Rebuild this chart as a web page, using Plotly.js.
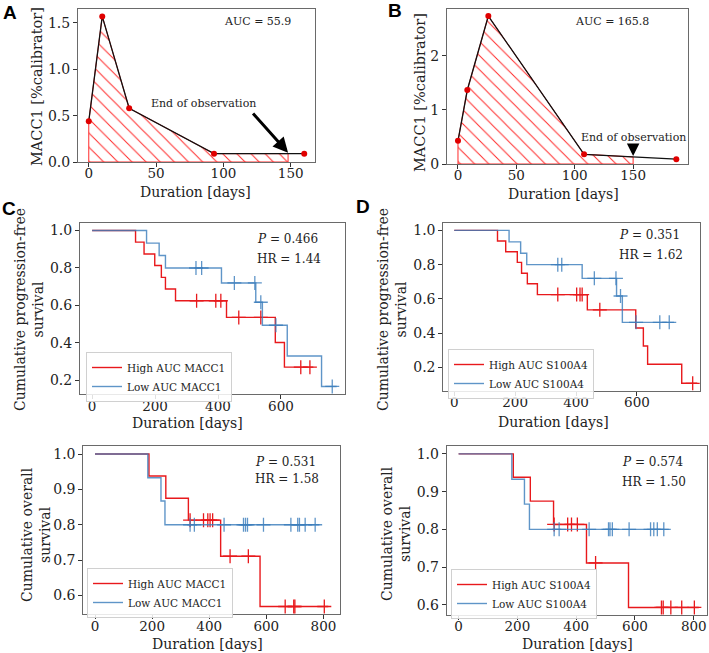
<!DOCTYPE html>
<html>
<head>
<meta charset="utf-8">
<script src="https://cdn.plot.ly/plotly-3.0.1.min.js"></script>
<style>html,body{margin:0;padding:0;background:#fff;}#chart{width:709px;height:653px;}</style>
</head>
<body>
<div id="chart"></div>
<script>
// ---------- Panel A (MACC1 time course) ----------
const aDays = [0, 10, 30, 93, 160];
const aMacc1 = [0.44, 1.57, 0.58, 0.09, 0.09];
const aAreaDays = [0, 0, 10, 30, 93, 148, 148, 0];
const aAreaVals = [0, 0.44, 1.57, 0.58, 0.09, 0.09, 0, 0];
const aAuc = "AUC = 55.9";
const aEndObs = 148;

// ---------- Panel B ----------
const bDays = [0, 8, 26, 108, 187];
const bMacc1 = [0.43, 1.37, 2.74, 0.18, 0.09];
const bAreaDays = [0, 0, 8, 26, 108, 150, 150, 0];
const bAreaVals = [0, 0.43, 1.37, 2.74, 0.18, 0.13, 0, 0];
const bAuc = "AUC = 165.8";
const bEndObs = 150;

// ---------- Panel C top: PFS, MACC1 ----------
const cPfsHighT = [0, 138, 165, 199, 220, 233, 265, 427, 582, 611, 703];
const cPfsHighS = [1.0, 0.938, 0.875, 0.813, 0.75, 0.688, 0.625, 0.536, 0.402, 0.27, 0.27];
const cPfsHighCensT = [332, 393, 409, 466, 536, 663, 692];
const cPfsHighCensS = [0.625, 0.625, 0.625, 0.536, 0.536, 0.27, 0.27];
const cPfsLowT = [0, 173, 213, 233, 411, 520, 541, 620, 729, 777];
const cPfsLowS = [1.0, 0.933, 0.867, 0.8, 0.72, 0.617, 0.494, 0.33, 0.167, 0.167];
const cPfsLowCensT = [330, 348, 452, 517, 536, 584, 763];
const cPfsLowCensS = [0.8, 0.8, 0.72, 0.72, 0.617, 0.494, 0.167];

// ---------- Panel D top: PFS, S100A4 ----------
const dPfsHighT = [0, 142, 169, 207, 221, 240, 273, 437, 596, 621, 635, 747, 798];
const dPfsHighS = [1.0, 0.938, 0.875, 0.813, 0.75, 0.688, 0.625, 0.536, 0.43, 0.325, 0.218, 0.107, 0.107];
const dPfsHighCensT = [340, 402, 413, 420, 478, 783];
const dPfsHighCensS = [0.625, 0.625, 0.625, 0.625, 0.536, 0.107];
const dPfsLowT = [0, 180, 218, 238, 420, 533, 552, 722];
const dPfsLowS = [1.0, 0.933, 0.867, 0.8, 0.72, 0.617, 0.463, 0.463];
const dPfsLowCensT = [340, 353, 460, 531, 546, 597, 675, 706];
const dPfsLowCensS = [0.8, 0.8, 0.72, 0.72, 0.617, 0.463, 0.463, 0.463];

// ---------- Panel C bottom: OS, MACC1 ----------
const cOsHighT = [0, 189, 248, 327, 440, 578, 817];
const cOsHighS = [1.0, 0.938, 0.875, 0.813, 0.711, 0.569, 0.569];
const cOsHighCensT = [333, 380, 395, 403, 412, 473, 537, 666, 696, 700, 803];
const cOsHighCensS = [0.813, 0.813, 0.813, 0.813, 0.813, 0.711, 0.711, 0.569, 0.569, 0.569, 0.569];
const cOsLowT = [0, 185, 231, 245, 786];
const cOsLowS = [1.0, 0.933, 0.867, 0.8, 0.8];
const cOsLowCensT = [333, 348, 452, 520, 527, 534, 590, 686, 710, 716, 736, 771];
const cOsLowCensS = [0.8, 0.8, 0.8, 0.8, 0.8, 0.8, 0.8, 0.8, 0.8, 0.8, 0.8, 0.8];

// ---------- Panel D bottom: OS, S100A4 ----------
const dOsHighT = [0, 186, 244, 323, 435, 578, 817];
const dOsHighS = [1.0, 0.938, 0.875, 0.813, 0.711, 0.593, 0.593];
const dOsHighCensT = [325, 371, 384, 404, 466, 690, 696, 722, 759, 802];
const dOsHighCensS = [0.813, 0.813, 0.813, 0.813, 0.711, 0.593, 0.593, 0.593, 0.593, 0.593];
const dOsLowT = [0, 181, 224, 241, 715];
const dOsLowS = [1.0, 0.933, 0.867, 0.8, 0.8];
const dOsLowCensT = [325, 342, 444, 510, 515, 523, 580, 653, 664, 676, 698];
const dOsLowCensS = [0.8, 0.8, 0.8, 0.8, 0.8, 0.8, 0.8, 0.8, 0.8, 0.8, 0.8];

// ---------- labels ----------
const statsText = {
  cTop: ["<i>P</i> = 0.466", "HR = 1.44"],
  dTop: ["<i>P</i> = 0.351", "HR = 1.62"],
  cBot: ["<i>P</i> = 0.531", "HR = 1.58"],
  dBot: ["<i>P</i> = 0.574", "HR = 1.50"]
};
const legendNames = {
  c: ["High AUC MACC1", "Low AUC MACC1"],
  d: ["High AUC S100A4", "Low AUC S100A4"]
};
const xTitle = 'Duration [days]';
const yTitleMacc1 = 'MACC1 [%calibrator]';
const yTitlePfs = 'Cumulative progression-free<br>survival';
const yTitleOs = 'Cumulative overall<br>survival';

const RED = '#e8191c';
const BLUE = 'rgba(60,126,188,0.82)';
const SERIF = 'DejaVu Serif, serif';

const traces = [];

function areaPanel(xs, ys, ax, ay, pxs, pys) {
  traces.push({
    x: ax, y: ay, xaxis: xs, yaxis: ys, type: 'scatter', mode: 'lines',
    fill: 'toself', fillcolor: 'white',
    fillpattern: {shape: '\\', fgcolor: '#ff2a2a', bgcolor: 'white', size: 10, solidity: 0.1},
    line: {color: '#ff2a2a', width: 1}, showlegend: false, hoverinfo: 'skip'
  });
  traces.push({
    x: pxs, y: pys, xaxis: xs, yaxis: ys, type: 'scatter', mode: 'lines+markers',
    line: {color: '#111', width: 1.3},
    marker: {color: '#e00000', size: 6}, showlegend: false
  });
}
areaPanel('x', 'y', aAreaDays, aAreaVals, aDays, aMacc1);
areaPanel('x2', 'y2', bAreaDays, bAreaVals, bDays, bMacc1);

function km(xs, ys, legendId, names, hT, hS, hCT, hCS, lT, lS, lCT, lCS) {
  traces.push({x: hT, y: hS, xaxis: xs, yaxis: ys, type: 'scatter', mode: 'lines',
    line: {shape: 'hv', color: RED, width: 1.4}, name: names[0], legend: legendId});
  traces.push({x: hCT, y: hCS, xaxis: xs, yaxis: ys, type: 'scatter', mode: 'markers',
    marker: {symbol: 'cross-thin', size: 10, line: {color: RED, width: 1.3}},
    showlegend: false, legend: legendId});
  traces.push({x: lT, y: lS, xaxis: xs, yaxis: ys, type: 'scatter', mode: 'lines',
    line: {shape: 'hv', color: BLUE, width: 1.4}, name: names[1], legend: legendId});
  traces.push({x: lCT, y: lCS, xaxis: xs, yaxis: ys, type: 'scatter', mode: 'markers',
    marker: {symbol: 'cross-thin', size: 10, line: {color: BLUE, width: 1.3}},
    showlegend: false, legend: legendId});
}
km('x3', 'y3', 'legend', legendNames.c, cPfsHighT, cPfsHighS, cPfsHighCensT, cPfsHighCensS, cPfsLowT, cPfsLowS, cPfsLowCensT, cPfsLowCensS);
km('x4', 'y4', 'legend2', legendNames.d, dPfsHighT, dPfsHighS, dPfsHighCensT, dPfsHighCensS, dPfsLowT, dPfsLowS, dPfsLowCensT, dPfsLowCensS);
km('x5', 'y5', 'legend3', legendNames.c, cOsHighT, cOsHighS, cOsHighCensT, cOsHighCensS, cOsLowT, cOsLowS, cOsLowCensT, cOsLowCensS);
km('x6', 'y6', 'legend4', legendNames.d, dOsHighT, dOsHighS, dOsHighCensT, dOsHighCensS, dOsLowT, dOsLowS, dOsLowCensT, dOsLowCensS);

const W = 709, H = 653;
const px = v => v / W;
const py = v => 1 - v / H;

function axis(domain, range, tickvals, fmt, anchor) {
  return {
    domain: domain, range: range, tickvals: tickvals, tickformat: fmt,
    anchor: anchor, showline: true, mirror: true, linecolor: '#6a6a6a', linewidth: 1,
    ticks: 'outside', ticklen: 4, tickcolor: '#333', tickwidth: 1,
    showgrid: false, zeroline: false, automargin: false,
    tickfont: {family: SERIF, size: 14, color: '#222'}
  };
}
function xax(d, r, tv, f, a) {
  const o = axis(d, r, tv, f, a);
  o.ticklabelstandoff = -5;
  o.tickfont = {family: SERIF, size: 13.5, color: '#222'};
  return o;
}

const layout = {
  width: W, height: H, margin: {l: 0, r: 0, t: 0, b: 0},
  paper_bgcolor: 'white', plot_bgcolor: 'white', showlegend: true,
  font: {family: SERIF, color: '#222'},
  xaxis: xax([px(78), px(315)], [-8, 168], [0, 50, 100, 150], 'd', 'y'),
  yaxis: axis([py(162), py(9)], [0, 1.65], [0, 0.5, 1.0, 1.5], '.1f', 'x'),
  xaxis2: xax([px(447), px(688)], [-9.4, 197], [0, 50, 100, 150], 'd', 'y2'),
  yaxis2: axis([py(164), py(9)], [0, 2.87], [0, 1, 2], 'd', 'x2'),
  xaxis3: xax([px(80), px(345)], [-38.5, 803.5], [0, 200, 400, 600], 'd', 'y3'),
  yaxis3: axis([py(394.3), py(222.7)], [0.125, 1.042], [0.2, 0.4, 0.6, 0.8, 1.0], '.1f', 'x3'),
  xaxis4: xax([px(443.3), px(700)], [-36, 807], [0, 200, 400, 600], 'd', 'y4'),
  yaxis4: axis([py(391), py(222.7)], [0.062, 1.045], [0.2, 0.4, 0.6, 0.8, 1.0], '.1f', 'x4'),
  xaxis5: xax([px(83.3), px(340)], [-41, 858], [0, 200, 400, 600, 800], 'd', 'y5'),
  yaxis5: axis([py(614.3), py(446)], [0.547, 1.0226], [0.6, 0.7, 0.8, 0.9, 1.0], '.1f', 'x5'),
  xaxis6: xax([px(446.7), px(707)], [-40.5, 845], [0, 200, 400, 600, 800], 'd', 'y6'),
  yaxis6: axis([py(615), py(446)], [0.573, 1.021], [0.6, 0.7, 0.8, 0.9, 1.0], '.1f', 'x6'),
  annotations: []
};

const legBase = () => ({
  xanchor: 'left', yanchor: 'top', bgcolor: 'rgba(255,255,255,0.85)',
  bordercolor: '#d0d0d0', borderwidth: 1, tracegroupgap: 0,
  font: {family: SERIF, size: 10.5, color: '#222'}, itemwidth: 30
});
layout.legend = Object.assign(legBase(), {x: px(86), y: py(352)});
layout.legend2 = Object.assign(legBase(), {x: px(448), y: py(349)});
layout.legend3 = Object.assign(legBase(), {x: px(87), y: py(568)});
layout.legend4 = Object.assign(legBase(), {x: px(451), y: py(569)});

const ann = layout.annotations;
function txt(x, y, text, size, xanchor, extra) {
  ann.push(Object.assign({xref: 'paper', yref: 'paper', x: x, y: y, text: text, showarrow: false,
    xanchor: xanchor || 'center', yanchor: 'middle', font: {family: SERIF, size: size, color: '#222'}}, extra || {}));
}
// axis titles
txt(px(195), py(192), xTitle, 14);
txt(px(563), py(194), xTitle, 14);
txt(px(188), py(423), xTitle, 14);
txt(px(553), py(422), xTitle, 14);
txt(px(207), py(644), xTitle, 14);
txt(px(577), py(644), xTitle, 14);
txt(px(37), py(87), yTitleMacc1, 14.5, 'center', {textangle: -90});
txt(px(420), py(93), yTitleMacc1, 14.5, 'center', {textangle: -90});
txt(px(29), py(310), yTitlePfs, 14, 'center', {textangle: -90});
txt(px(392), py(310), yTitlePfs, 14, 'center', {textangle: -90});
txt(px(36), py(535), yTitleOs, 14, 'center', {textangle: -90});
txt(px(396), py(534), yTitleOs, 14, 'center', {textangle: -90});
// panel letters
[['A', 10, 13], ['B', 395, 11], ['C', 9, 209], ['D', 363, 207]].forEach(p => {
  ann.push({xref: 'paper', yref: 'paper', x: px(p[1]), y: py(p[2]), text: '<b>' + p[0] + '</b>',
    showarrow: false, xanchor: 'center', yanchor: 'middle',
    font: {family: 'Liberation Sans, Arial, sans-serif', size: 19, color: '#000'}});
});
// AUC
txt(px(257), py(21), aAuc, 11);
txt(px(612), py(21), bAuc, 11);
// end of observation
txt(px(203), py(103), 'End of observation', 11);
txt(px(633), py(137), 'End of observation', 11);
ann.push({xref: 'x', yref: 'y', axref: 'x', ayref: 'y', x: aEndObs, y: 0.1, ax: 121, ay: 0.54,
  text: '', showarrow: true, arrowhead: 2, arrowsize: 1, arrowwidth: 3, arrowcolor: '#000'});
ann.push({xref: 'x2', yref: 'y2', axref: 'x2', ayref: 'y2', x: bEndObs, y: 0.15, ax: bEndObs, ay: 0.4,
  text: '', showarrow: true, arrowhead: 2, arrowsize: 1, arrowwidth: 2.5, arrowcolor: '#000'});
// stats
txt(px(255), py(239), statsText.cTop[0], 12, 'left');
txt(px(255), py(259), statsText.cTop[1], 12, 'left');
txt(px(617), py(235), statsText.dTop[0], 12, 'left');
txt(px(617), py(255), statsText.dTop[1], 12, 'left');
txt(px(253), py(462), statsText.cBot[0], 12, 'left');
txt(px(253), py(479), statsText.cBot[1], 12, 'left');
txt(px(620), py(462), statsText.dBot[0], 12, 'left');
txt(px(620), py(482), statsText.dBot[1], 12, 'left');

Plotly.newPlot('chart', traces, layout, {staticPlot: true});
</script>
</body>
</html>
